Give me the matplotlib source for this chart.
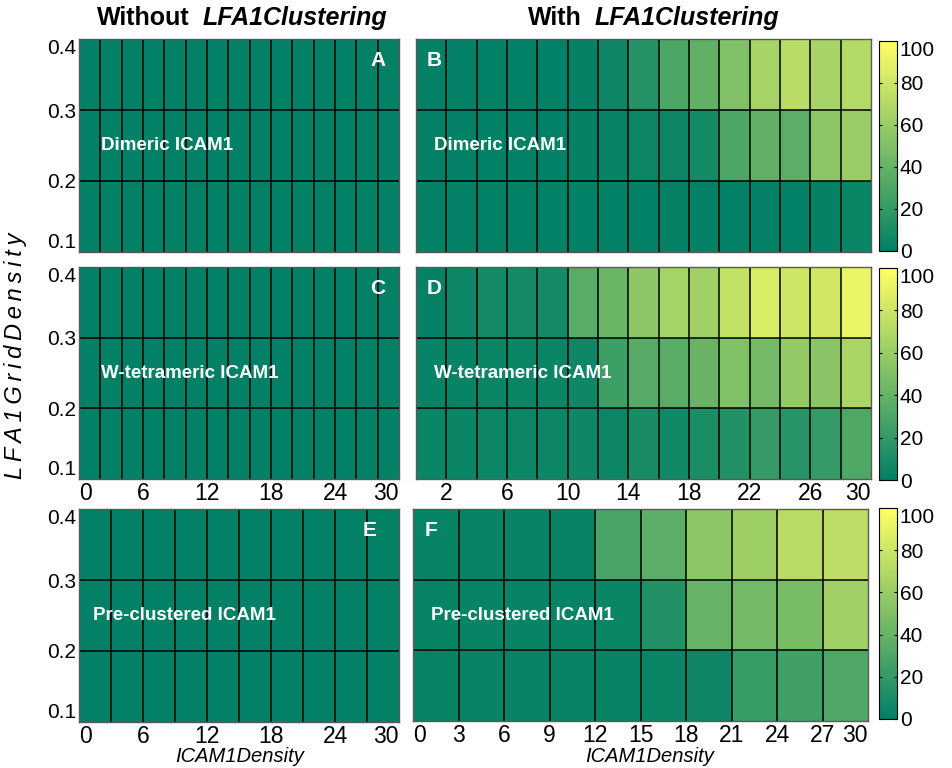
import numpy as np
from matplotlib import pyplot as plt

# grid edges
lfa_edges = [0.1, 0.2, 0.3, 0.4]
icam_edges_15 = [0, 2, 4, 6, 8, 10, 12, 14, 16, 18, 20, 22, 24, 26, 28, 30]
icam_edges_10 = [0, 3, 6, 9, 12, 15, 18, 21, 24, 27, 30]

# rows listed bottom (0.1-0.2), middle (0.2-0.3), top (0.3-0.4)
A_bot = [1, 1, 1, 1, 1, 1, 1, 1, 1, 1, 1, 1, 1, 1, 1]
A_mid = [1, 1, 1, 1, 1, 1, 1, 1, 1, 1, 1, 1, 1, 1, 1]
A_top = [1, 1, 1, 1, 1, 1, 1, 1, 1, 1, 1, 1, 1, 1, 1]

B_bot = [1, 1, 1, 1, 1, 1, 1, 1, 2, 2, 1, 1, 1, 2, 4]
B_mid = [1, 1, 1, 1, 1, 2, 3, 5, 5, 8, 30, 38, 36, 55, 60]
B_top = [1, 1, 1, 1, 1, 2, 6, 15, 30, 38, 50, 65, 72, 66, 70]

C_bot = [1, 1, 1, 1, 1, 1, 1, 1, 1, 1, 1, 1, 1, 1, 1]
C_mid = [1, 1, 1, 1, 1, 1, 1, 1, 1, 1, 1, 1, 1, 1, 1]
C_top = [1, 1, 1, 1, 1, 1, 1, 1, 1, 1, 1, 1, 1, 1, 1]

D_bot = [4, 4, 5, 5, 5, 6, 5, 10, 7, 11, 14, 21, 16, 21, 31]
D_mid = [3, 3, 4, 4, 4, 6, 24, 34, 35, 41, 50, 45, 58, 54, 67]
D_top = [2, 5, 8, 8, 8, 35, 42, 55, 65, 63, 75, 85, 80, 82, 92]

E_bot = [1, 1, 1, 1, 1, 1, 1, 1, 1, 1]
E_mid = [1, 1, 1, 1, 1, 1, 1, 1, 1, 1]
E_top = [1, 1, 1, 1, 1, 1, 1, 1, 1, 1]

F_bot = [3, 3, 3, 3, 3, 4, 6, 22, 25, 32]
F_mid = [3, 3, 3, 3, 4, 14, 40, 45, 47, 63]
F_top = [3, 3, 3, 3, 28, 36, 55, 62, 72, 74]

ticks_left = [0, 6, 12, 18, 24, 30]
ticks_D = [2, 6, 10, 14, 18, 22, 26, 30]
ticks_F = [0, 3, 6, 9, 12, 15, 18, 21, 24, 27, 30]
lfa_ticks = [0.1, 0.2, 0.3, 0.4]
lfa_labels = ['0.1', '0.2', '0.3', '0.4']
cbar_ticks = [0, 20, 40, 60, 80, 100]

narrow = ['Liberation Sans Narrow', 'Liberation Sans', 'DejaVu Sans']
plt.rcParams['font.family'] = ['Liberation Sans', 'DejaVu Sans']

fig = plt.figure(figsize=(9.52, 7.68), dpi=100)

W, H = 952.0, 768.0
def box(x0, y0, x1, y1):
    return [x0 / W, 1 - y1 / H, (x1 - x0) / W, (y1 - y0) / H]

panels = [
    # letter, data rows, x edges, rect, label, xticks, show y, letter x, label x
    ('A', [A_bot, A_mid, A_top], icam_edges_15, box(79, 39, 399, 252), 'Dimeric ICAM1', None, True, 28.0, 2.1),
    ('B', [B_bot, B_mid, B_top], icam_edges_15, box(416, 39, 871, 252), 'Dimeric ICAM1', None, False, 1.2, 1.2),
    ('C', [C_bot, C_mid, C_top], icam_edges_15, box(79, 267, 399, 479), 'W-tetrameric ICAM1', ticks_left, True, 28.0, 2.1),
    ('D', [D_bot, D_mid, D_top], icam_edges_15, box(416, 267, 871, 479), 'W-tetrameric ICAM1', ticks_D, False, 1.2, 1.2),
    ('E', [E_bot, E_mid, E_top], icam_edges_10, box(79, 509, 399, 722), 'Pre-clustered ICAM1', ticks_left, True, 27.2, 1.3),
    ('F', [F_bot, F_mid, F_top], icam_edges_10, box(413, 509, 868, 721), 'Pre-clustered ICAM1', ticks_F, False, 1.2, 1.2),
]
cbar_boxes = {'B': box(879, 41, 897, 251), 'D': box(879, 268, 897, 480), 'F': box(879, 508, 897, 719)}

for letter, rows, xe, rect, label, xt, showy, lx, tx in panels:
    ax = fig.add_axes(rect)
    mesh = ax.pcolormesh(xe, lfa_edges, np.array(rows), cmap='summer', vmin=0, vmax=100)
    # cell borders
    ax.vlines(xe[1:-1], 0.1, 0.4, colors='k', linewidth=1.1)
    ax.hlines(lfa_edges[1:-1], 0, 30, colors='k', linewidth=1.1)
    ax.set_xlim(0, 30)
    ax.set_ylim(0.1, 0.4)
    ax.set_yticks(lfa_ticks)
    if showy:
        ax.set_yticklabels(lfa_labels, fontsize=15, family=narrow)
        ylabs = ax.get_yticklabels()
        ylabs[0].set_va('bottom')
        ylabs[-1].set_va('top')
    else:
        ax.set_yticklabels([])
    if xt is None:
        ax.set_xticks(ticks_left)
        ax.set_xticklabels([])
    else:
        ax.set_xticks(xt)
        ax.set_xticklabels([str(t) for t in xt], fontsize=16.5, family=narrow)
        xlabs = ax.get_xticklabels()
        if xt[0] == 0:
            xlabs[0].set_ha('left')
        if xt[-1] == 30:
            xlabs[-1].set_ha('right')
    ax.tick_params(direction='in', length=3, width=0.6, color='0.35', top=True, right=True, pad=2)
    for s in ax.spines.values():
        s.set_color('0.35')
        s.set_linewidth(1.0)
    ax.text(lx, 0.37, letter, color='white', fontsize=15, fontweight='bold', ha='center', va='center')
    ax.text(tx, 0.25, label, color='white', fontsize=13.5, fontweight='bold', ha='left', va='center')

    if letter in cbar_boxes:
        cax = fig.add_axes(cbar_boxes[letter])
        cb = fig.colorbar(mesh, cax=cax, ticks=cbar_ticks)
        cb.ax.set_yticklabels([str(t) for t in cbar_ticks], fontsize=15, family=narrow)
        cb.ax.get_yticklabels()[-1].set_va('top')
        cb.ax.tick_params(direction='in', length=2.5, width=0.8, left=True, right=True, pad=2)
        cb.outline.set_linewidth(0.8)

# column titles: plain bold word + bold italic name
fig.text(190 / W, 1 - 18 / H, 'Without', ha='right', va='center', fontsize=18, fontweight='bold')
fig.text(203 / W, 1 - 18 / H, 'LFA1Clustering', ha='left', va='center', fontsize=18,
         fontweight='bold', style='italic')
fig.text(582 / W, 1 - 18 / H, 'With', ha='right', va='center', fontsize=18, fontweight='bold')
fig.text(595 / W, 1 - 18 / H, 'LFA1Clustering', ha='left', va='center', fontsize=18,
         fontweight='bold', style='italic')

fig.text(240 / W, 1 - 756 / H, 'ICAM1Density', style='italic', fontsize=14.5, ha='center', va='center')
fig.text(650 / W, 1 - 756 / H, 'ICAM1Density', style='italic', fontsize=14.5, ha='center', va='center')
fig.text(16 / W, 1 - 356 / H, '\u2009'.join('LFA1GridDensity'), style='italic', fontsize=17,
         rotation=90, ha='center', va='center')

plt.savefig('out.png', dpi=100)
plt.close()
